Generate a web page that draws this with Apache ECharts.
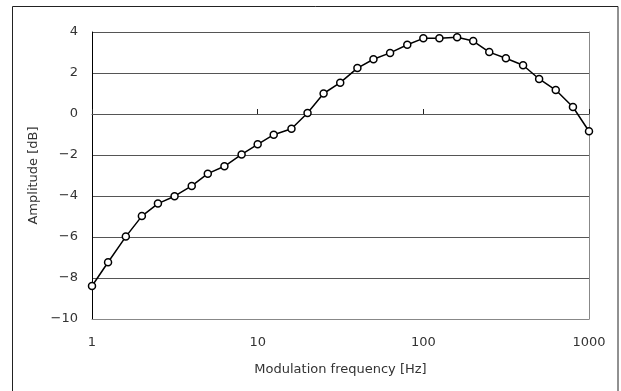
<!DOCTYPE html>
<html>
<head>
<meta charset="utf-8">
<script src="https://cdn.jsdelivr.net/npm/echarts@6/dist/echarts.min.js"></script>
<style>
html, body { margin: 0; padding: 0; background: #fff; }
#main { width: 621px; height: 391px; }
</style>
</head>
<body>
<div id="main"></div>
<script>
// 1/3 octave modulation frequencies (Hz)
var freqs = [1, 1.25, 1.6, 2, 2.5, 3.15, 4, 5, 6.3, 8, 10, 12.5, 16, 20, 25, 31.5, 40, 50, 63, 80,
	100, 125, 160, 200, 250, 315, 400, 500, 630, 800, 1000];
// amplitude (dB)
var amps = [-8.39, -7.23, -5.98, -4.98, -4.37, -4.01, -3.51, -2.91, -2.55, -1.97, -1.48, -1.01, -0.72, 0.05,
	1.0, 1.53, 2.24, 2.67, 2.98, 3.38, 3.69, 3.69, 3.74, 3.56, 3.02, 2.72, 2.38, 1.71, 1.17, 0.34, -0.84];
var yTicks = [-10, -8, -6, -4, -2, 0, 2, 4];

var points = [];
for (var i = 0; i < freqs.length; i++) {
	points.push([freqs[i], amps[i]]);
}

var font = 'DejaVu Sans';
var myChart = echarts.init(document.getElementById('main'));
myChart.setOption({
	animation: false,
	backgroundColor: '#fff',
	textStyle: { fontFamily: font },
	graphic: [{
		type: 'rect',
		shape: { x: 12.5, y: 6.5, width: 605.5, height: 400 },
		style: { fill: 'none', stroke: '#222', lineWidth: 1 },
		silent: true
	}],
	grid: { left: 92, right: 32, top: 32, bottom: 72 },
	xAxis: [{
		// axis crossing at 0 dB, only ticks
		type: 'log',
		logBase: 10,
		min: 1,
		max: 1000,
		axisLine: { onZero: true, lineStyle: { color: '#555', width: 1 } },
		axisTick: { show: true, inside: true, length: 5, lineStyle: { color: '#222' } },
		axisLabel: { show: false },
		splitLine: { show: false }
	}, {
		type: 'log',
		logBase: 10,
		min: 1,
		max: 1000,
		position: 'bottom',
		axisLine: { onZero: false, lineStyle: { color: '#888', width: 1 } },
		axisTick: { show: false },
		axisLabel: {
			color: '#333', fontSize: 13, fontFamily: font, margin: 17,
			formatter: function(v) { return String(Math.round(v)); }
		},
		splitLine: { show: false },
		name: 'Modulation frequency [Hz]',
		nameLocation: 'middle',
		nameGap: 44,
		nameTextStyle: { color: '#333', fontSize: 13, fontFamily: font }
	}],
	yAxis: [{
		type: 'value',
		min: yTicks[0],
		max: yTicks[yTicks.length - 1],
		interval: 2,
		axisLine: { show: true, lineStyle: { color: '#000', width: 1 } },
		axisTick: { show: false },
		axisLabel: {
			color: '#333', fontSize: 13, fontFamily: font, margin: 14,
			formatter: function(v) { return String(v).replace('-', '\u2212'); }
		},
		splitLine: { show: true, lineStyle: { color: '#555', width: 1 } },
		name: 'Amplitude [dB]',
		nameLocation: 'middle',
		nameGap: 47,
		nameTextStyle: { color: '#333', fontSize: 13, fontFamily: font }
	}, {
		// right border of plot area
		type: 'value',
		position: 'right',
		min: yTicks[0],
		max: yTicks[yTicks.length - 1],
		interval: 2,
		axisLine: { show: true, lineStyle: { color: '#888', width: 1 } },
		axisTick: { show: false },
		axisLabel: { show: false },
		splitLine: { show: false }
	}],
	series: [{
		type: 'line',
		xAxisIndex: 0,
		yAxisIndex: 0,
		data: points,
		symbol: 'circle',
		symbolSize: 7,
		lineStyle: { color: '#000', width: 1.5 },
		itemStyle: { color: '#fff', borderColor: '#000', borderWidth: 1.5 },
		z: 5
	}]
});
</script>
</body>
</html>
